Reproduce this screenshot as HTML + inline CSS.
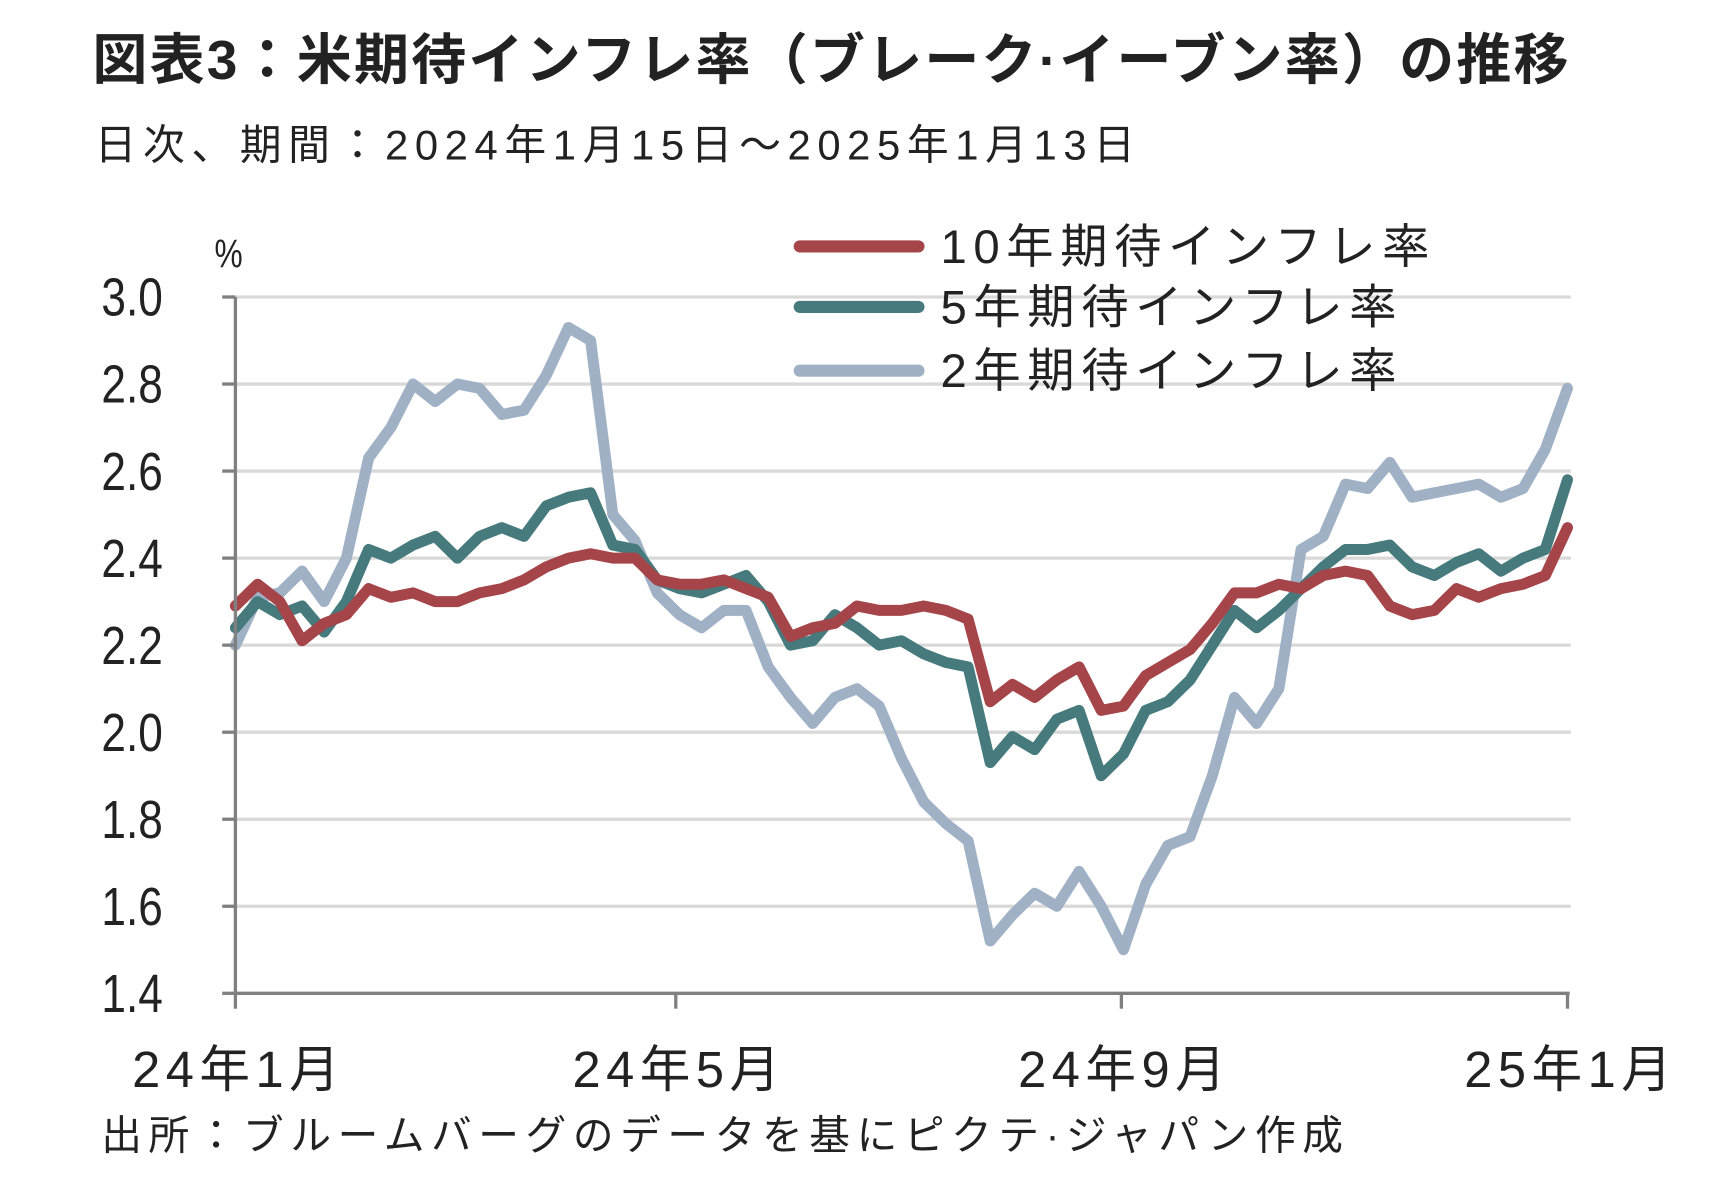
<!DOCTYPE html>
<html><head><meta charset="utf-8"><style>
html,body{margin:0;padding:0;background:#fff;}
svg{display:block;}
text{font-family:"Liberation Sans","Noto Sans CJK JP",sans-serif;fill:#222;}
</style></head><body>
<svg id="chart" width="1716" height="1188" viewBox="0 0 1560 1080" xmlns="http://www.w3.org/2000/svg">
<text x="84" y="72" font-size="50" font-weight="bold" fill="#333" letter-spacing="2">図表3：米期待インフレ率（ブレーク·イーブン率）の推移</text>
<text x="86" y="145" font-size="38" letter-spacing="6">日次、期間：2024年1月15日～2025年1月13日</text>
<text x="195" y="243" font-size="36" transform="translate(195,0) scale(0.8,1) translate(-195,0)">%</text>
<g id="grid"></g>
<g id="series"></g>
<g id="axes"></g>
<g>
<line x1="727" y1="224" x2="835" y2="224" stroke="#a5454a" stroke-width="11" stroke-linecap="round"/>
<text x="855" y="239" font-size="43" letter-spacing="6">10年期待インフレ率</text>
<line x1="727" y1="279" x2="835" y2="279" stroke="#467a7c" stroke-width="11" stroke-linecap="round"/>
<text x="855" y="294" font-size="43" letter-spacing="6">5年期待インフレ率</text>
<line x1="727" y1="337" x2="835" y2="337" stroke="#a0b1c6" stroke-width="11" stroke-linecap="round"/>
<text x="855" y="352" font-size="43" letter-spacing="6">2年期待インフレ率</text>
</g>
<text x="92" y="1045" font-size="37" letter-spacing="6">出所：ブルームバーグのデータを基にピクテ·ジャパン作成</text>
</svg>
<script>
const yTicks = [3.0,2.8,2.6,2.4,2.2,2.0,1.8,1.6,1.4];
const xTickLabels = ["24年1月","24年5月","24年9月","25年1月"];
const xTickPos = [0, 0.3306, 0.6651, 1.0];
const be2y = [2.20,2.31,2.32,2.37,2.30,2.40,2.63,2.70,2.80,2.76,2.80,2.79,2.73,2.74,2.82,2.93,
2.90,2.50,2.44,2.32,2.27,2.24,2.28,2.28,2.15,2.08,2.02,2.08,2.10,2.06,1.94,1.84,1.79,1.75,1.52,1.58,1.63,1.60,1.68,1.60,1.50,1.65,1.74,1.76,1.90,2.08,2.02,2.10,2.42,2.45,2.57,2.56,2.62,2.54,2.55,2.56,2.57,2.54,2.56,2.65,2.79];
const be5y = [2.24,2.30,2.27,2.29,2.23,2.30,2.42,2.40,2.43,2.45,2.40,2.45,2.47,2.45,2.52,2.54,
2.55,2.43,2.42,2.35,2.33,2.32,2.34,2.36,2.30,2.20,2.21,2.27,2.24,2.20,2.21,2.18,2.16,2.15,1.93,1.99,1.96,2.03,2.05,1.90,1.95,2.05,2.07,2.12,2.20,2.28,2.24,2.28,2.33,2.38,2.42,2.42,2.43,2.38,2.36,2.39,2.41,2.37,2.40,2.42,2.58];
const be10y = [2.29,2.34,2.30,2.21,2.25,2.27,2.33,2.31,2.32,2.30,2.30,2.32,2.33,2.35,2.38,2.40,
2.41,2.40,2.40,2.35,2.34,2.34,2.35,2.33,2.31,2.22,2.24,2.25,2.29,2.28,2.28,2.29,2.28,2.26,2.07,2.11,2.08,2.12,2.15,2.05,2.06,2.13,2.16,2.19,2.25,2.32,2.32,2.34,2.33,2.36,2.37,2.36,2.29,2.27,2.28,2.33,2.31,2.33,2.34,2.36,2.47];

const NS="http://www.w3.org/2000/svg";
const X0=214, X1=1425, Y0=270, Y1=903, VMAX=3.0, VMIN=1.4;
function xs(f){return X0+f*(X1-X0);}
function xi(i,n){return xs(i/(n-1));}
function ys(v){return Y0+(VMAX-v)/(VMAX-VMIN)*(Y1-Y0);}
function mk(tag,attrs,parent){const e=document.createElementNS(NS,tag);for(const k in attrs)e.setAttribute(k,attrs[k]);parent.appendChild(e);return e;}
const grid=document.getElementById('grid'), axes=document.getElementById('axes'), series=document.getElementById('series');
yTicks.forEach(v=>{
  if(v>VMIN){
    const g=mk('line',{x1:X0,x2:1428,y1:ys(v),y2:ys(v),stroke:'#d9d9d9','stroke-width':3},grid);
    
    
  }
  const t=mk('line',{x1:202,x2:X0,y1:ys(v),y2:ys(v),stroke:'#808080','stroke-width':3},axes);
  
  
  const l=mk('text',{x:0,y:0,'font-size':49,'text-anchor':'end',transform:'translate(148,'+(ys(v)+17)+') scale(0.82,1)'},axes);
  l.textContent=v.toFixed(1);
  
  
});
const ya=mk('line',{x1:X0,x2:X0,y1:Y0,y2:Y1,stroke:'#808080','stroke-width':3},axes);


const xa=mk('line',{x1:X0-1,x2:X1+2,y1:Y1,y2:Y1,stroke:'#808080','stroke-width':3},axes);


xTickLabels.forEach((s,i)=>{
  const x=xs(xTickPos[i]);
  const t=mk('line',{x1:x,x2:x,y1:Y1,y2:Y1+14,stroke:'#808080','stroke-width':3},axes);
  
  
  const l=mk('text',{x:x+3,y:988,'font-size':46,'text-anchor':'middle','letter-spacing':5},axes);
  l.textContent=s;
  
  
});
function drawLine(data,color,name){
  const d=data.map((v,i)=>(i?'L':'M')+xi(i,data.length).toFixed(1)+','+ys(v).toFixed(1)).join('');
  const p=mk('path',{d:d,fill:'none',stroke:color,'stroke-width':10,'stroke-linejoin':'round','stroke-linecap':'round'},series);
  
  
}
drawLine(be2y,'#a0b1c6','line-2y-breakeven');
drawLine(be5y,'#467a7c','line-5y-breakeven');
drawLine(be10y,'#a5454a','line-10y-breakeven');
</script>
</body></html>
